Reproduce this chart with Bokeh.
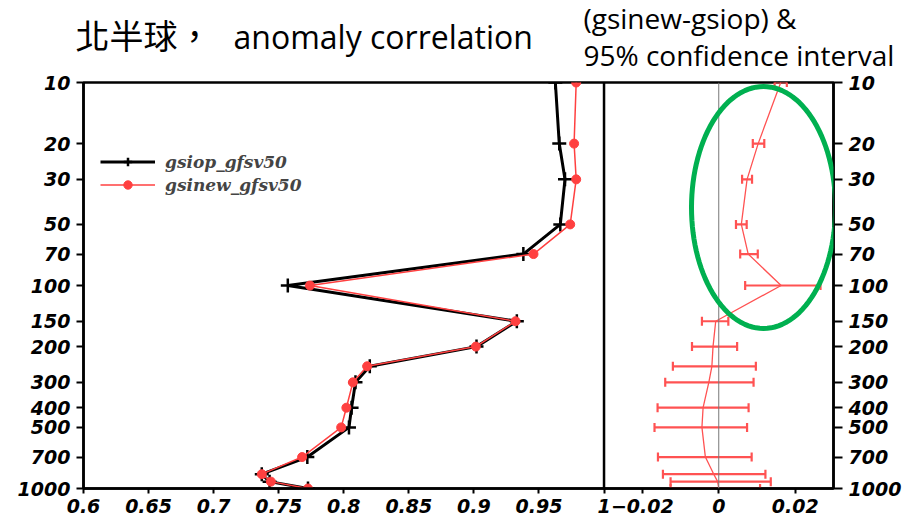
import numpy as np
from bokeh.plotting import figure
from bokeh.layouts import column, row
from bokeh.models import (Range1d, LogAxis, FixedTicker, PrintfTickFormatter, Span, Whisker,
                          TeeHead, ColumnDataSource, Label, Legend, LegendItem, PolyAnnotation)
from bokeh.embed import file_html
from bokeh.resources import INLINE

# ---------------- data ----------------
levels = [10, 20, 30, 50, 70, 100, 150, 200, 250, 300, 400, 500, 700, 850, 925, 1000]
gsiop = [0.9626, 0.9656, 0.970, 0.9664, 0.938, 0.757, 0.933, 0.902, 0.820, 0.809, 0.806, 0.804,
         0.772, 0.737, 0.743, 0.7725]
gsinew = [0.9786, 0.977, 0.9786, 0.974, 0.9458, 0.774, 0.932, 0.9015, 0.818, 0.807, 0.802, 0.798,
          0.768, 0.737, 0.744, 0.7725]
diff = [0.0162, 0.0103, 0.0074, 0.0059, 0.0077, 0.0163, -0.0008, -0.0015, -0.0018, -0.0026, -0.0041,
        -0.0044, -0.0035, -0.0013, -0.0003, 0.0]
diff_lo = [0.0146, 0.0089, 0.0061, 0.0045, 0.0056, 0.0069, -0.0044, -0.0070, -0.0120, -0.0140, -0.0160,
           -0.0168, -0.0159, -0.0146, -0.0126, -0.0126]
diff_hi = [0.0178, 0.0119, 0.0087, 0.0073, 0.0102, 0.0266, 0.0025, 0.0048, 0.0097, 0.0091, 0.0078,
           0.0074, 0.0086, 0.0122, 0.0136, 0.0108]

y_ticks = [10, 20, 30, 50, 70, 100, 150, 200, 300, 400, 500, 700, 1000]
x_ticks_left = [0.6, 0.65, 0.7, 0.75, 0.8, 0.85, 0.9, 0.95, 1.0]
x_labels_left = ["0.6", "0.65", "0.7", "0.75", "0.8", "0.85", "0.9", "0.95", "1"]
x_ticks_right = [-0.02, 0.0, 0.02]
x_labels_right = ["\u22120.02", "0", "0.02"]

title_cjk = "北半球，"
title_en = "anomaly correlation"
title_r1 = "(gsinew-gsiop) &"
title_r2 = "95% confidence interval"
name_op = "gsiop_gfsv50"
name_new = "gsinew_gfsv50"

# ---------------- layout ----------------
W = 904
HEAD_H = 73
LEFT_W, RIGHT_W = 524, 231
L0, L1 = 0.6, 1.0
R0, R1 = -0.03, 0.03
RED = "#ff4040"
RED2 = "#ff5252"
TICK_FONT = "DejaVu Sans"

# ---- header with the titles (frame = whole canvas, pixel ranges) ----
head = figure(width=W, height=HEAD_H, min_border=0, min_border_left=0, min_border_right=0,
              min_border_top=0, min_border_bottom=0, x_range=Range1d(0, W), y_range=Range1d(HEAD_H, 0),
              x_axis_location=None, y_axis_location=None, output_backend="svg", toolbar_location=None)
head.xgrid.visible = False
head.ygrid.visible = False
head.outline_line_color = None
head.add_layout(Label(x=75, y=34, text=title_cjk, text_font="Noto Sans CJK TC", text_font_size="34px",
                      text_baseline="middle", text_color="black"))
head.add_layout(Label(x=233, y=35.8, text=title_en, text_font="Open Sans", text_font_size="32px",
                      text_baseline="alphabetic", text_color="black"))
head.add_layout(Label(x=583, y=17.4, text=title_r1, text_font="Open Sans", text_font_size="28px",
                      text_baseline="alphabetic", text_color="black"))
head.add_layout(Label(x=583, y=54.4, text=title_r2, text_font="Open Sans", text_font_size="28px",
                      text_baseline="alphabetic", text_color="black"))

# ---- main plot ----
x_main = Range1d(L0, L1 + (L1 - L0) * RIGHT_W / LEFT_W)
x_diff = Range1d(R0 - (R1 - R0) * LEFT_W / RIGHT_W, R1)

p = figure(width=W, height=523 - HEAD_H, min_border_left=83, min_border_right=W - 83 - LEFT_W - RIGHT_W,
           min_border_top=82 - HEAD_H, min_border_bottom=35, x_range=x_main, y_range=Range1d(1000, 10),
           y_axis_type="log", output_backend="svg", toolbar_location=None)
p.extra_x_ranges = {"diff": x_diff}
p.xgrid.visible = False
p.ygrid.visible = False
p.outline_line_color = "black"
p.outline_line_width = 2.5

op_line = p.line(gsiop, levels, line_color="black", line_width=3)
op_mark = p.scatter(gsiop, levels, marker="cross", size=14, line_color="black", line_width=2.5)
new_line = p.line(gsinew, levels, line_color=RED, line_width=1.5)
new_mark = p.scatter(gsinew, levels, marker="circle", size=9, fill_color=RED, line_color=RED)

p.add_layout(Span(location=L1, dimension="height", line_color="black", line_width=2.5))

p.add_layout(Span(location=0, dimension="height", line_color="#777777", line_width=1,
                  x_range_name="diff"))
src = ColumnDataSource(dict(p=levels, d=diff, lo=diff_lo, hi=diff_hi))
p.line("d", "p", source=src, line_color=RED2, line_width=1.3, x_range_name="diff")
p.add_layout(Whisker(source=src, base="p", lower="lo", upper="hi", dimension="width",
                     x_range_name="diff", line_color=RED2, line_width=2.2,
                     lower_head=TeeHead(size=9, line_color=RED2, line_width=2.2),
                     upper_head=TeeHead(size=9, line_color=RED2, line_width=2.2)))

def style_axis(ax):
    ax.axis_line_width = 2.5
    ax.major_tick_line_width = 2
    ax.major_tick_in = 0
    ax.minor_tick_line_color = None
    ax.major_label_text_font = TICK_FONT
    ax.major_label_text_font_style = "bold italic"
    ax.major_label_text_font_size = "19px"
    ax.major_label_text_color = "black"

p.yaxis.ticker = FixedTicker(ticks=y_ticks, minor_ticks=[])
p.yaxis.formatter = PrintfTickFormatter(format="%d")
style_axis(p.yaxis[0])
p.yaxis.major_tick_out = 7
p.yaxis.major_label_standoff = 6

ry = LogAxis(ticker=FixedTicker(ticks=y_ticks, minor_ticks=[]), formatter=PrintfTickFormatter(format="%d"))
style_axis(ry)
ry.major_tick_out = 9
ry.major_label_standoff = 6
p.add_layout(ry, "right")

scale = (L1 - L0) * RIGHT_W / ((R1 - R0) * LEFT_W)
x_ticks_all = list(x_ticks_left) + [L1 + (t - R0) * scale for t in x_ticks_right]
x_labels_all = list(x_labels_left) + list(x_labels_right)
p.xaxis.ticker = FixedTicker(ticks=x_ticks_all, minor_ticks=[])
p.xaxis.major_label_overrides = {t: s for t, s in zip(x_ticks_all, x_labels_all)}
style_axis(p.xaxis[0])
p.xaxis.major_tick_out = 5
p.xaxis.major_label_standoff = 5

legend = Legend(items=[LegendItem(label=name_op, renderers=[op_line, op_mark]),
                       LegendItem(label=name_new, renderers=[new_line, new_mark])],
                location=(17, 293), glyph_width=55, glyph_height=21, spacing=2, padding=0, margin=0,
                label_standoff=10, border_line_color=None, background_fill_alpha=0,
                label_text_font="DejaVu Serif", label_text_font_style="bold italic",
                label_text_font_size="17px")
p.add_layout(legend, "center")

# green highlight ellipse (screen units relative to the frame, y measured from its bottom)
th = np.linspace(0, 2 * np.pi, 121)
cx, cy, ea, eb = 680, 281, 72, 121
p.add_layout(PolyAnnotation(xs=list(cx + ea * np.cos(th)), ys=list(cy + eb * np.sin(th)),
                            xs_units="screen", ys_units="screen", fill_alpha=0,
                            line_color="#00b050", line_width=5, line_alpha=1))

layout = column(row(head), p, spacing=0)
open("out.html", "w").write(file_html(layout, INLINE))
